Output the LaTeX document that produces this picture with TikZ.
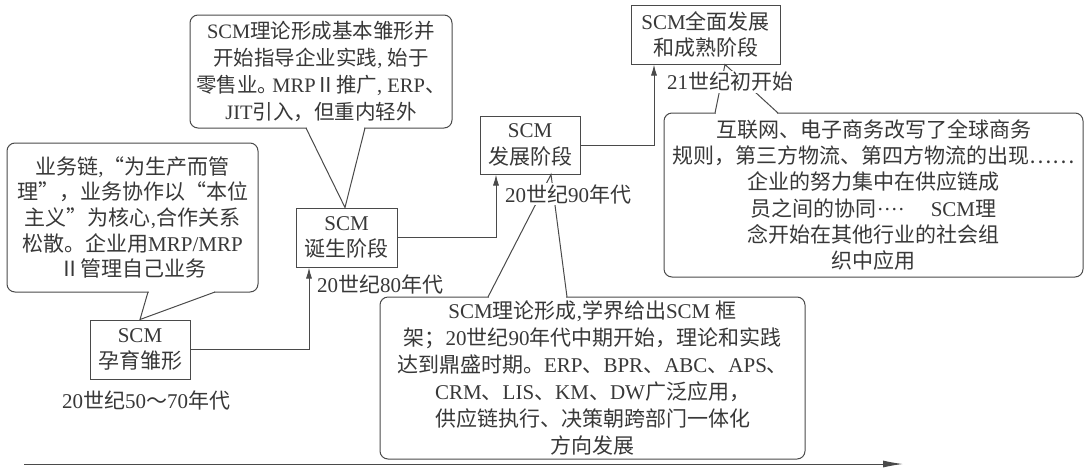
\documentclass[tikz,border=0pt]{standalone}
\usepackage{fontspec}
\setmainfont{Liberation Serif}
\newfontfamily\cjk{Noto Sans CJK SC}
\usetikzlibrary{arrows.meta,calc}
\XeTeXinterchartokenstate=1
\newXeTeXintercharclass\CJKcls
\newcount\cjkc
\cjkc="2E80
\loop\XeTeXcharclass\cjkc=\CJKcls\ifnum\cjkc<"9FFF\advance\cjkc by 1\repeat
\cjkc="FF00
\loop\XeTeXcharclass\cjkc=\CJKcls\ifnum\cjkc<"FFEF\advance\cjkc by 1\repeat
\XeTeXcharclass"2161=\CJKcls
\XeTeXcharclass"2026=\CJKcls
\XeTeXcharclass"201C=\CJKcls
\XeTeXcharclass"201D=\CJKcls
\XeTeXinterchartoks 0 \CJKcls = {\cjk}
\XeTeXinterchartoks 4095 \CJKcls = {\cjk}
\XeTeXinterchartoks \CJKcls 0 = {\rmfamily}
\XeTeXinterchartoks \CJKcls 4095 = {\rmfamily}
\definecolor{ink}{HTML}{383838}
\definecolor{lin}{HTML}{4A4A4A}
\tikzset{
  stagebox/.style={draw=lin, line width=1pt, align=center, inner sep=0pt, text=ink},
  callout/.style={draw=lin, line width=1pt, rounded corners=8pt, align=center, inner sep=0pt, text=ink},
  yearlabel/.style={fill=white, inner sep=1pt, text=ink},
  arr/.style={draw=lin, line width=1pt, -{Latex[length=11pt,width=6pt]}},
  ptr/.style={draw=lin, line width=1pt},
  erase/.style={draw=white, line width=2.6pt}
}
\begin{document}
\begin{tikzpicture}[x=1pt,y=-1pt,font=\fontsize{21}{26.5}\selectfont]
\useasboundingbox[fill=white] (0,0) rectangle (1086,469);
% stage boxes
\node[stagebox, minimum width=100pt, minimum height=59pt] (A) at (140,349.5) {SCM\\孕育雏形};
\node[stagebox, minimum width=101pt, minimum height=59pt] (B) at (346.5,237.5) {SCM\\诞生阶段};
\node[stagebox, minimum width=100pt, minimum height=58pt] (C) at (530,145) {SCM\\发展阶段};
\node[stagebox, minimum width=149pt, minimum height=59pt] (D) at (705.5,34.5) {SCM全面发展\\和成熟阶段};
% callouts
\node[callout, minimum width=251pt, minimum height=149pt, font=\fontsize{21}{25.7}\selectfont] (c1) at (132.5,217.5)
  {业务链,“为生产而管\\理”，业务协作以“本位\\主义”为核心,合作关系\\松散。企业用MRP/MRP\\Ⅱ管理自己业务};
\node[callout, minimum width=262pt, minimum height=113pt, font=\fontsize{20.5}{27}\selectfont] (c2) at (321,71.5)
  {SCM理论形成基本雏形并\\开始指导企业实践, 始于\\零售业。\hspace{-6pt}MRPⅡ推广, ERP、\\JIT引入，但重内轻外};
\node[callout, minimum width=425pt, minimum height=162pt, font=\fontsize{21}{27}\selectfont] (c3) at (592.5,378)
  {SCM理论形成,学界给出SCM 框\\架；20世纪90年代中期开始，理论和实践\\达到鼎盛时期。ERP、BPR、ABC、APS、\\CRM、LIS、KM、DW广泛应用，\\供应链执行、决策朝跨部门一体化\\方向发展};
\node[callout, minimum width=419pt, minimum height=164pt, font=\fontsize{21}{26.3}\selectfont] (c4) at (873.5,195)
  {互联网、电子商务改写了全球商务\\规则，第三方物流、第四方物流的出现……\\企业的努力集中在供应链成\\员之间的协同····\hspace{26pt}SCM理\\念开始在其他行业的社会组\\织中应用};
% callout pointers
\coordinate (p1a) at (148,292); \coordinate (p1b) at (215,292);
\draw[erase] ([xshift=1pt]p1a) -- ([xshift=-1pt]p1b);
\draw[ptr] (p1a) -- (A.north) -- (p1b);
\coordinate (p2a) at (306,128); \coordinate (p2b) at (365,128);
\draw[erase] ([xshift=1pt]p2a) -- ([xshift=-1pt]p2b);
\draw[ptr] (p2a) -- ([xshift=-1.5pt]B.north) -- (p2b);
\coordinate (p3a) at (488,297); \coordinate (p3b) at (567,297);
\draw[erase] ([xshift=1pt]p3a) -- ([xshift=-1pt]p3b);
\draw[ptr] (p3a) -- ([xshift=21pt]C.south) -- (p3b);
\coordinate (p4a) at (715,113); \coordinate (p4b) at (778,113);
\draw[erase] ([xshift=1pt]p4a) -- ([xshift=-1pt]p4b);
\draw[ptr] (p4a) -- ([xshift=19.5pt]D.south) -- (p4b);
% stage arrows
\draw[arr] (A.east) -| ([xshift=-37.5pt]B.south);
\draw[arr] (B.east) -| ([xshift=-34pt]C.south);
\draw[arr] (C.east) -| ([xshift=-51.5pt]D.south);
% year labels
\node[yearlabel] (l1) at (146,400) {20世纪50～70年代};
\node[yearlabel] (l2) at (380,284) {20世纪80年代};
\node[yearlabel] (l3) at (568,194) {20世纪90年代};
\node[yearlabel] (l4) at (730,82) {21世纪初开始};
% timeline
\coordinate (t0) at (24,464);
\coordinate (t1) at (903,464);
\draw[draw=lin, line width=1pt, -{Latex[length=20pt,width=7pt]}] (t0) -- (t1);
\end{tikzpicture}
\end{document}
